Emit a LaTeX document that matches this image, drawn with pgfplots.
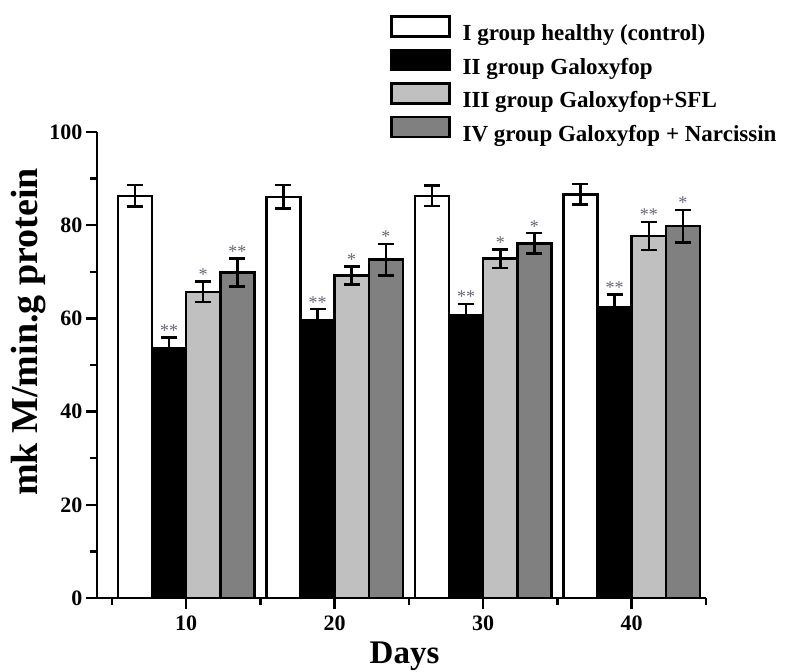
\documentclass[border=0pt]{standalone}
\usepackage{fontspec}
\setmainfont{Liberation Serif}
\usepackage{pgfplots}
\usepackage{pgfplotstable}
\pgfplotsset{compat=1.18}
\definecolor{lightbar}{HTML}{C0C0C0}
\definecolor{darkbar}{HTML}{808080}
\definecolor{starcol}{HTML}{6A6375}

% day, mean, error, significance mark
\pgfplotstableread{
d v e s
10 86.3 2.3 {}
20 86.1 2.5 {}
30 86.3 2.2 {}
40 86.6 2.2 {}
}\gI
\pgfplotstableread{
d v e s
10 53.7 2.2 **
20 59.5 2.5 **
30 60.7 2.4 **
40 62.4 2.7 **
}\gII
\pgfplotstableread{
d v e s
10 65.7 2.2 *
20 69.2 1.9 *
30 72.8 2.0 *
40 77.7 3.0 **
}\gIII
\pgfplotstableread{
d v e s
10 69.8 3.0 **
20 72.6 3.4 *
30 76.1 2.2 *
40 79.8 3.5 *
}\gIV

\begin{document}
\begin{tikzpicture}
\begin{axis}[
    at={(0,0)}, anchor=south west,
    scale only axis,
    width=609pt, height=466pt,
    xmin=4, xmax=45,
    ymin=0, ymax=100,
    axis lines=left,
    axis line style={line width=2.5pt,-},
    tick style={line width=2.5pt,black},
    tick align=outside,
    major tick length=11pt,
    minor tick length=7pt,
    xtick={10,20,30,40},
    minor xtick={5,15,25,35,45},
    ytick={0,20,40,60,80,100},
    minor ytick={10,30,50,70,90},
    /pgf/number format/assume math mode=true,
    tick label style={font=\fontsize{22}{22}\selectfont\bfseries},
    xticklabel style={yshift=-3pt},
    xlabel={Days},
    xlabel style={font=\fontsize{33}{33}\selectfont\bfseries,
        at={(axis description cs:0.505,0)}, anchor=base, yshift=-66pt},
    ylabel={mk M/min.g protein},
    ylabel style={font=\fontsize{38}{38}\selectfont\bfseries,
        at={(axis description cs:-0.113,0.571)}, anchor=center},
    every axis plot/.append style={line width=2.5pt},
    error bars/error bar style={line width=2.5pt,black},
    error bars/error mark options={rotate=90,mark size=8pt,line width=2.5pt,black},
    legend image code/.code={\draw[#1,line width=2.5pt] (0pt,-3pt) rectangle (58pt,17pt);},
    legend cell align=left,
    legend style={at={(rel axis cs:0.481,1.251)}, anchor=north west,
        draw=none, fill=none, inner sep=0pt,
        font=\fontsize{23}{23}\selectfont\bfseries,
        row sep=6.5pt, column sep=12pt,
        nodes={inner sep=0pt}},
    visualization depends on={\thisrow{e}\as\myerr},
    nodes near coords style={font=\fontsize{18}{18}\selectfont, text=starcol,
        anchor=base, yshift={\myerr*4.66pt+1pt}},
]
\addplot[ybar, bar width=2.3, bar shift=0pt, fill=white, draw=black,
    error bars/.cd, y dir=both, y explicit]
    table[x expr=\thisrow{d}-3.45, y=v, y error=e] {\gI};
\addlegendentry{I group healthy (control)}
\addplot[ybar, bar width=2.3, bar shift=0pt, fill=black, draw=black,
    nodes near coords, point meta=explicit symbolic,
    error bars/.cd, y dir=both, y explicit]
    table[x expr=\thisrow{d}-1.15, y=v, y error=e, meta=s] {\gII};
\addlegendentry{II group Galoxyfop}
\addplot[ybar, bar width=2.3, bar shift=0pt, fill=lightbar, draw=black,
    nodes near coords, point meta=explicit symbolic,
    error bars/.cd, y dir=both, y explicit]
    table[x expr=\thisrow{d}+1.15, y=v, y error=e, meta=s] {\gIII};
\addlegendentry{III group Galoxyfop+SFL}
\addplot[ybar, bar width=2.3, bar shift=0pt, fill=darkbar, draw=black,
    nodes near coords, point meta=explicit symbolic,
    error bars/.cd, y dir=both, y explicit]
    table[x expr=\thisrow{d}+3.45, y=v, y error=e, meta=s] {\gIV};
\addlegendentry{IV group Galoxyfop + Narcissin}
\end{axis}
\pgfresetboundingbox
\useasboundingbox (-97pt,-74pt) rectangle (688pt,598pt);
\end{tikzpicture}
\end{document}
